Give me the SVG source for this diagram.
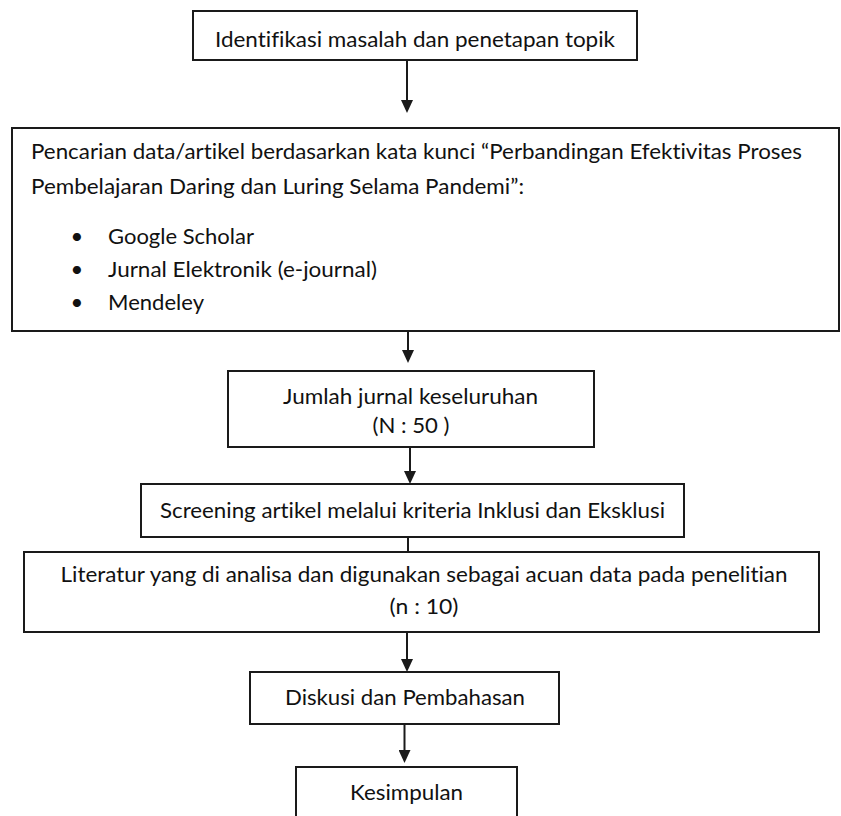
<svg xmlns="http://www.w3.org/2000/svg" width="841" height="816" viewBox="0 0 841 816">
  <style>
    .box { fill: #ffffff; stroke: #1a1a1a; stroke-width: 2; }
    .t { font-family: Lato, "Open Sans", "Liberation Sans", sans-serif; font-size: 22px; fill: #111111; font-variant-ligatures: none; font-feature-settings: "liga" 0, "clig" 0, "dlig" 0; }
    .c { text-anchor: middle; }
    .conn { stroke: #1a1a1a; stroke-width: 2; fill: none; }
  </style>
  <defs>
    <marker id="arrow" markerUnits="userSpaceOnUse" markerWidth="13" markerHeight="12" refX="0" refY="6" orient="auto">
      <path d="M0,0 L13,6 L0,12 z" fill="#1a1a1a"/>
    </marker>
  </defs>
  <rect width="841" height="816" fill="#ffffff"/>

  <g id="connectors">
    <line class="conn" x1="407" y1="60" x2="407" y2="100" marker-end="url(#arrow)"/>
    <line class="conn" x1="408" y1="331" x2="408" y2="350" marker-end="url(#arrow)"/>
    <line class="conn" x1="410" y1="447" x2="410" y2="471" marker-end="url(#arrow)"/>
    <line class="conn" x1="408" y1="537" x2="408" y2="552"/>
    <line class="conn" x1="407" y1="632" x2="407" y2="659" marker-end="url(#arrow)"/>
    <line class="conn" x1="404.5" y1="724" x2="404.5" y2="750" marker-end="url(#arrow)"/>
  </g>

  <g id="node-identifikasi">
    <rect class="box" x="193" y="11" width="444" height="49"/>
    <text class="t" x="215" y="46.5" textLength="400" lengthAdjust="spacingAndGlyphs">Identifikasi masalah dan penetapan topik</text>
  </g>

  <g id="node-pencarian">
    <rect class="box" x="12" y="128" width="827" height="203"/>
    <text class="t" x="31" y="159" textLength="771" lengthAdjust="spacingAndGlyphs">Pencarian data/artikel berdasarkan kata kunci “Perbandingan Efektivitas Proses</text>
    <text class="t" x="31" y="194" textLength="493" lengthAdjust="spacingAndGlyphs">Pembelajaran Daring dan Luring Selama Pandemi”:</text>
    <text class="t c" x="77" y="244">•</text>
    <text class="t" x="108" y="244" textLength="146" lengthAdjust="spacingAndGlyphs">Google Scholar</text>
    <text class="t c" x="77" y="277">•</text>
    <text class="t" x="108" y="277" textLength="269" lengthAdjust="spacingAndGlyphs">Jurnal Elektronik (e-journal)</text>
    <text class="t c" x="77" y="310">•</text>
    <text class="t" x="108" y="310" textLength="96" lengthAdjust="spacingAndGlyphs">Mendeley</text>
  </g>

  <g id="node-jumlah">
    <rect class="box" x="228" y="371" width="366" height="76"/>
    <text class="t c" x="410.5" y="404" textLength="255" lengthAdjust="spacingAndGlyphs">Jumlah jurnal keseluruhan</text>
    <text class="t c" x="411" y="433" textLength="77" lengthAdjust="spacingAndGlyphs">(N : 50 )</text>
  </g>

  <g id="node-screening">
    <rect class="box" x="141" y="484" width="543" height="53"/>
    <text class="t c" x="412.5" y="518" textLength="505" lengthAdjust="spacingAndGlyphs">Screening artikel melalui kriteria Inklusi dan Eksklusi</text>
  </g>

  <g id="node-literatur">
    <rect class="box" x="24" y="552" width="795" height="80"/>
    <text class="t c" x="424" y="582" textLength="727" lengthAdjust="spacingAndGlyphs">Literatur yang di analisa dan digunakan sebagai acuan data pada penelitian</text>
    <text class="t c" x="424" y="614" textLength="69" lengthAdjust="spacingAndGlyphs">(n : 10)</text>
  </g>

  <g id="node-diskusi">
    <rect class="box" x="250" y="672" width="309" height="52"/>
    <text class="t c" x="405" y="705" textLength="240" lengthAdjust="spacingAndGlyphs">Diskusi dan Pembahasan</text>
  </g>

  <g id="node-kesimpulan">
    <rect class="box" x="296" y="767" width="221" height="60"/>
    <text class="t c" x="406.5" y="800" textLength="113" lengthAdjust="spacingAndGlyphs">Kesimpulan</text>
  </g>
</svg>
